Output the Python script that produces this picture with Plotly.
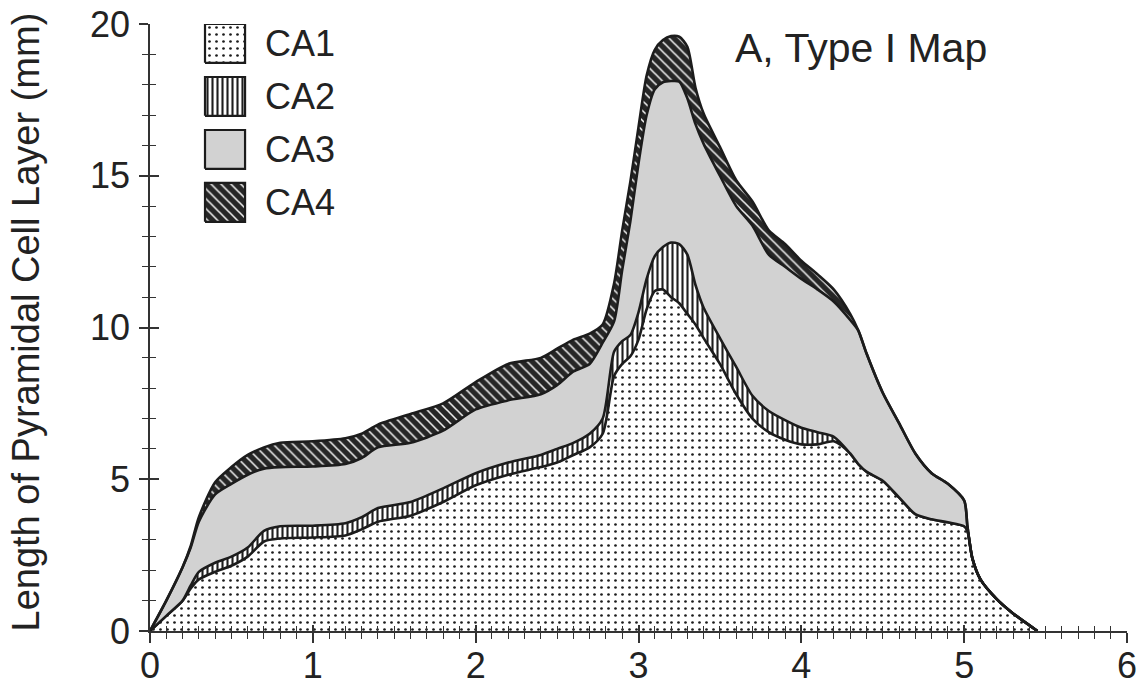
import plotly.graph_objects as go

# ---------------- data ----------------
x_pos = [0, 0.1, 0.2, 0.25, 0.3, 0.4, 0.5, 0.6, 0.7, 0.8, 1.0, 1.2, 1.3, 1.4, 1.6, 1.8,
         2.0, 2.2, 2.4, 2.5, 2.6, 2.7, 2.78, 2.85, 2.9, 2.95, 3.0, 3.05, 3.1, 3.15, 3.2,
         3.25, 3.3, 3.35, 3.4, 3.5, 3.6, 3.7, 3.8, 3.9, 4.0, 4.1, 4.2, 4.3, 4.35, 4.4,
         4.5, 4.6, 4.7, 4.8, 4.9, 5.0, 5.02, 5.05, 5.1, 5.2, 5.3, 5.45]

ca1 = [0, 0.5, 1.0, 1.4, 1.7, 1.95, 2.15, 2.45, 2.95, 3.05, 3.08, 3.15, 3.35, 3.6, 3.8, 4.25,
       4.8, 5.15, 5.4, 5.55, 5.8, 6.05, 6.5, 8.4, 8.8, 9.05, 9.6, 10.6, 11.2, 11.25, 11.0,
       10.8, 10.45, 10.1, 9.65, 8.8, 7.8, 7.0, 6.55, 6.3, 6.15, 6.15, 6.25, 5.85, 5.5, 5.25,
       4.95, 4.4, 3.85, 3.68, 3.58, 3.45, 3.3, 2.4, 1.7, 1.05, 0.58, 0]

ca2 = [0, 0, 0, 0.1, 0.25, 0.3, 0.3, 0.3, 0.35, 0.4, 0.39, 0.4, 0.4, 0.45, 0.45, 0.45,
       0.4, 0.4, 0.4, 0.45, 0.4, 0.45, 0.5, 0.8, 0.75, 0.7, 0.9, 1.0, 1.15, 1.4, 1.8,
       1.95, 1.95, 1.3, 1.0, 0.85, 0.9, 0.75, 0.7, 0.65, 0.55, 0.4, 0.15, 0, 0, 0,
       0, 0, 0, 0, 0, 0, 0, 0, 0, 0, 0, 0]

ca3 = [0, 0.5, 1.1, 1.25, 1.65, 2.25, 2.4, 2.4, 2.05, 1.95, 1.95, 1.95, 1.95, 2.0, 1.95, 1.9,
       2.1, 2.05, 2.0, 2.1, 2.35, 2.3, 2.5, 1.0, 2.35, 3.75, 4.9, 5.4, 5.5, 5.43, 5.32,
       5.35, 5.15, 5.3, 5.4, 5.35, 5.3, 5.6, 5.15, 5.05, 4.9, 4.7, 4.45, 4.4, 4.4, 3.9,
       2.9, 2.45, 2.0, 1.52, 1.27, 0.85, 0.15, 0, 0, 0, 0, 0]

ca4 = [0, 0, 0, 0.05, 0.15, 0.4, 0.55, 0.65, 0.7, 0.8, 0.83, 0.85, 0.8, 0.75, 0.95, 0.9,
       0.9, 1.2, 1.2, 1.2, 1.05, 1.0, 0.6, 1.25, 1.3, 1.3, 1.2, 1.3, 1.3, 1.39, 1.48,
       1.48, 1.7, 1.2, 1.0, 0.95, 0.85, 0.8, 0.8, 0.75, 0.6, 0.5, 0.4, 0.2, 0, 0,
       0, 0, 0, 0, 0, 0, 0, 0, 0, 0, 0, 0]

series_names = ["CA1", "CA2", "CA3", "CA4"]
x_ticks = [0, 1, 2, 3, 4, 5, 6]
y_ticks = [0, 5, 10, 15, 20]
panel_title = "A, Type I Map"
y_title = "Length of Pyramidal Cell Layer (mm)"

# ---------------- styling ----------------
FONT = "Liberation Sans, Arial, Helvetica, sans-serif"
INK = "#222222"
EDGE = "#1c1c1c"

styles = {
    "CA1": dict(fillpattern=dict(shape=".", size=7, solidity=0.12, fgcolor="#1c1c1c",
                                 bgcolor="white", fillmode="replace")),
    "CA2": dict(fillpattern=dict(shape="|", size=5, solidity=0.42, fgcolor="#1e1e1e",
                                 bgcolor="white", fillmode="replace")),
    "CA3": dict(fillcolor="#d2d2d2"),
    "CA4": dict(fillpattern=dict(shape="\\", size=7, solidity=0.22, fgcolor="#f2f2f2",
                                 bgcolor="#262626", fillmode="replace")),
}

fig = go.Figure()
layers = {"CA1": ca1, "CA2": ca2, "CA3": ca3, "CA4": ca4}
for name in series_names:
    fig.add_trace(go.Scatter(
        x=x_pos, y=layers[name], name=name, mode="lines", stackgroup="one",
        line=dict(color=EDGE, width=2.6, shape="spline", smoothing=0.7),
        showlegend=False, hoverinfo="skip", **styles[name]))

# dummy trace on the overlay axes that carry the inside halves of the ticks
fig.add_trace(go.Scatter(x=[], y=[], xaxis="x2", yaxis="y2", showlegend=False))

# legend swatches on a hidden unit axis pair (x3/y3)
box_left, box_w, box_h = 0.0563, 0.041, 0.064
legend_top, legend_step = 1.0, 0.0873
for i, name in enumerate(series_names):
    top = legend_top - i * legend_step
    bot = top - box_h
    fig.add_trace(go.Scatter(
        x=[box_left, box_left + box_w, box_left + box_w, box_left, box_left],
        y=[bot, bot, top, top, bot], mode="lines", fill="toself",
        line=dict(color=EDGE, width=2.2), xaxis="x3", yaxis="y3",
        showlegend=False, hoverinfo="skip", **styles[name]))
    fig.add_annotation(x=0.1157, y=(top + bot) / 2, xref="x3", yref="y3",
                       text=name, showarrow=False, xanchor="left", yanchor="middle",
                       font=dict(family=FONT, size=36, color=INK))

fig.add_annotation(x=0.5967, y=0.960, xref="paper", yref="paper", text=panel_title,
                   showarrow=False, xanchor="left", yanchor="middle",
                   font=dict(family=FONT, size=41, color=INK))

fig.add_annotation(x=0, y=0.5, xref="paper", yref="paper", text=y_title, textangle=-90,
                   showarrow=False, xanchor="center", yanchor="middle", xshift=-125, yshift=5,
                   font=dict(family=FONT, size=38, color=INK))

axis_common = dict(showgrid=False, zeroline=False, tickcolor="#333333", tickwidth=1.5,
                   automargin=False)

# the page body margin is removed (post_script below), so the figure fills the window
fig.update_layout(
    width=1145, height=687,
    margin=dict(l=150, r=18, t=24, b=56),
    paper_bgcolor="white", plot_bgcolor="white",
    font=dict(family=FONT, size=36, color=INK),
    xaxis=dict(range=[0, 6], tickvals=x_ticks, ticks="outside", ticklen=10,
               showline=True, linecolor="#333333", linewidth=1.5,
               tickfont=dict(size=36, color=INK), ticklabelstandoff=-8,
               ticklabeloverflow="allow",
               minor=dict(ticks="outside", ticklen=6, dtick=0.1, tick0=0,
                          tickcolor="#333333", tickwidth=1.2),
               **axis_common),
    yaxis=dict(range=[0, 20], tickvals=y_ticks, ticks="outside", ticklen=9,
               showline=True, linecolor="#333333", linewidth=1.5,
               tickfont=dict(size=36, color=INK), ticklabelstandoff=2,
               ticklabeloverflow="allow",
               minor=dict(ticks="outside", ticklen=6, dtick=1, tick0=0,
                          tickcolor="#333333", tickwidth=1.2),
               **axis_common),
    xaxis2=dict(range=[0, 6], overlaying="x", anchor="y2", side="bottom",
                tickvals=x_ticks, ticks="inside", ticklen=6, showticklabels=False,
                minor=dict(ticks="inside", ticklen=5, dtick=0.1, tick0=0,
                           tickcolor="#333333", tickwidth=1.2),
                showline=False, **axis_common),
    yaxis2=dict(range=[0, 20], overlaying="y", anchor="x2", side="left",
                tickvals=y_ticks, ticks="inside", ticklen=9, showticklabels=False,
                minor=dict(ticks="inside", ticklen=6, dtick=1, tick0=0,
                           tickcolor="#333333", tickwidth=1.2),
                showline=False, **axis_common),
    xaxis3=dict(range=[0, 1], overlaying="x", anchor="y3", visible=False),
    yaxis3=dict(range=[0, 1], overlaying="y", anchor="x3", visible=False),
)

fig.write_html("out.html",
               config={"displayModeBar": False},
               post_script="document.body.style.margin='0';"
                           "document.body.style.overflow='hidden';")
